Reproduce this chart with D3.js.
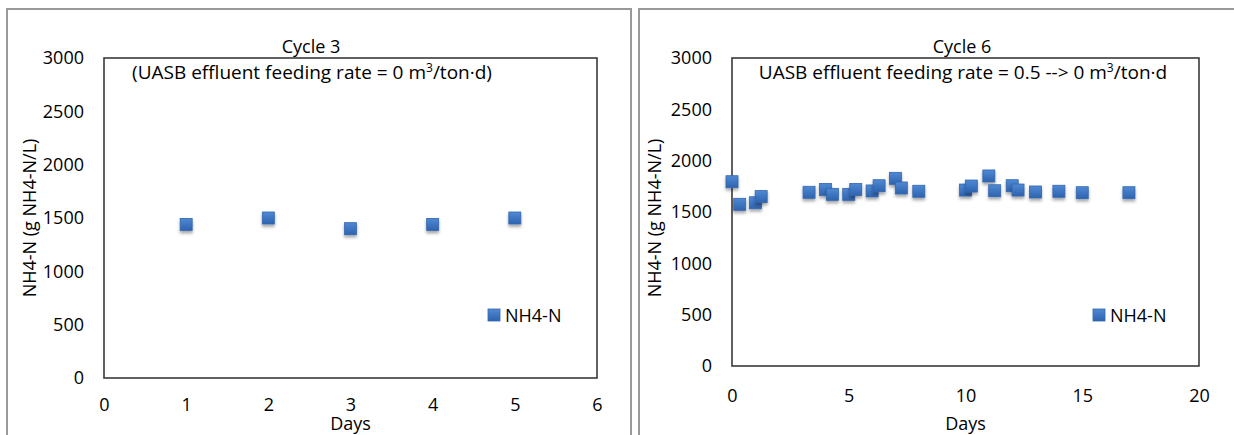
<!DOCTYPE html>
<html lang="en">
<head>
<meta charset="utf-8">
<title>NH4-N cycles</title>
<script src="https://d3js.org/d3.v7.min.js"></script>
<style>
  body { margin: 0; background: #fff; }
  svg text { font-family: "Open Sans", sans-serif; fill: #000; }
</style>
</head>
<body>
<script>
// cycle 3 data
var days3 = [1, 2, 3, 4, 5];
var nh4n3 = [1440, 1500, 1400, 1440, 1500];

// cycle 6 data
var days6 = [0, 0.33, 1, 1.25, 3.3, 4, 4.3, 5, 5.3, 6, 6.3, 7, 7.25, 8,
             10, 10.25, 11, 11.25, 12, 12.25, 13, 14, 15, 17];
var nh4n6 = [1795, 1575, 1590, 1650, 1692, 1720, 1672, 1672, 1720, 1705, 1756, 1828, 1734, 1702,
             1714, 1753, 1851, 1707, 1756, 1714, 1695, 1702, 1688, 1688];

var yTicks = [0, 500, 1000, 1500, 2000, 2500, 3000];
var xTicks3 = [0, 1, 2, 3, 4, 5, 6];
var xTicks6 = [0, 5, 10, 15, 20];

var w = 1234, h = 435;

var svg = d3.select("body").append("svg")
    .attr("width", w)
    .attr("height", h);

// marker gradient + shadow
var defs = svg.append("defs");
var grad = defs.append("linearGradient")
    .attr("id", "mk")
    .attr("x1", 0).attr("y1", 0).attr("x2", 0).attr("y2", 1);
grad.append("stop").attr("offset", "0%").attr("stop-color", "#4f89d4");
grad.append("stop").attr("offset", "100%").attr("stop-color", "#2f63ae");

var shadow = defs.append("filter")
    .attr("id", "shadow")
    .attr("x", "-50%").attr("y", "-50%").attr("width", "200%").attr("height", "200%");
shadow.append("feDropShadow")
    .attr("dx", 0).attr("dy", 2.5)
    .attr("stdDeviation", 1.6)
    .attr("flood-color", "#000")
    .attr("flood-opacity", 0.35);

// outer panel frames
svg.append("rect")
    .attr("x", 7).attr("y", 9)
    .attr("width", 624).attr("height", 440)
    .attr("fill", "none").attr("stroke", "#999").attr("stroke-width", 2);
svg.append("rect")
    .attr("x", 639).attr("y", 9)
    .attr("width", 620).attr("height", 440)
    .attr("fill", "none").attr("stroke", "#999").attr("stroke-width", 2);

function drawPanel(p) {
    var x = d3.scaleLinear().domain(p.xDomain).range([p.left, p.right]);
    var y = d3.scaleLinear().domain([0, 3000]).range([p.bottom, p.top]);

    var g = svg.append("g");

    // y axis labels
    var yAxis = d3.axisLeft(y).tickValues(yTicks).tickSize(0).tickPadding(20)
        .tickFormat(d3.format("d"));
    var ya = g.append("g")
        .attr("transform", "translate(" + p.left + ",0)")
        .call(yAxis);
    ya.select(".domain").remove();
    ya.selectAll("text")
        .style("font-family", "Open Sans, sans-serif")
        .style("font-size", "18px")
        .attr("fill", "#000");

    // x axis labels
    var xAxis = d3.axisBottom(x).tickValues(p.xTicks).tickSize(0).tickFormat(d3.format("d"));
    var xa = g.append("g")
        .attr("transform", "translate(0," + p.bottom + ")")
        .call(xAxis);
    xa.select(".domain").remove();
    xa.selectAll("text")
        .attr("y", p.xLabelOff)
        .attr("dy", 0)
        .style("font-family", "Open Sans, sans-serif")
        .style("font-size", "18px")
        .attr("fill", "#000");

    // plot frame
    g.append("rect")
        .attr("x", p.left).attr("y", p.top)
        .attr("width", p.right - p.left).attr("height", p.bottom - p.top)
        .attr("fill", "none")
        .attr("stroke", "#3a3a3a")
        .attr("stroke-width", 1.6);

    // titles
    g.append("text")
        .attr("x", p.titleX).attr("y", 53)
        .attr("text-anchor", "middle")
        .style("font-size", "18px")
        .text(p.title);

    var sub = g.append("text")
        .attr("x", p.subX).attr("y", 79)
        .attr("text-anchor", "middle")
        .style("font-size", "19px");
    sub.append("tspan").text(p.subA);
    sub.append("tspan").attr("dy", -7).style("font-size", "12px").text("3");
    sub.append("tspan").attr("dy", 7).text(p.subB);

    g.append("text")
        .attr("transform", "translate(" + p.yTitleX + ",218) rotate(-90)")
        .attr("text-anchor", "middle")
        .attr("dy", "0.35em")
        .style("font-size", "18px")
        .text("NH4-N (g NH4-N/L)");

    g.append("text")
        .attr("x", (p.left + p.right) / 2).attr("y", 430)
        .attr("text-anchor", "middle")
        .style("font-size", "18px")
        .text("Days");

    // points
    var pts = p.days.map(function(d, i) { return [d, p.vals[i]]; });
    var s = 12;
    g.selectAll("rect.pt")
        .data(pts)
        .enter()
        .append("rect")
        .attr("class", "pt")
        .attr("x", function(d) { return x(d[0]) - s / 2; })
        .attr("y", function(d) { return y(d[1]) - s / 2; })
        .attr("width", s).attr("height", s)
        .attr("fill", "url(#mk)")
        .attr("stroke", "#3366b0")
        .attr("stroke-width", 0.8)
        .attr("filter", "url(#shadow)");

    // legend
    g.append("rect")
        .attr("x", p.legX).attr("y", 309)
        .attr("width", 12).attr("height", 12)
        .attr("fill", "url(#mk)")
        .attr("stroke", "#3366b0")
        .attr("stroke-width", 0.8);
    g.append("text")
        .attr("x", p.legX + 17).attr("y", 322)
        .style("font-size", "18px")
        .text("NH4-N");
}

drawPanel({
    left: 104, right: 597, top: 58, bottom: 378,
    xDomain: [0, 6], xTicks: xTicks3, xLabelOff: 33,
    days: days3, vals: nh4n3,
    title: "Cycle 3", titleX: 311,
    subA: "(UASB effluent feeding rate = 0 m", subB: "/ton\u00b7d)", subX: 312,
    yTitleX: 30, legX: 488
});

drawPanel({
    left: 732, right: 1199, top: 58, bottom: 366,
    xDomain: [0, 20], xTicks: xTicks6, xLabelOff: 36,
    days: days6, vals: nh4n6,
    title: "Cycle 6", titleX: 962,
    subA: "UASB effluent feeding rate = 0.5 --> 0 m", subB: "/ton\u00b7d", subX: 963,
    yTitleX: 655, legX: 1093
});
</script>
</body>
</html>
